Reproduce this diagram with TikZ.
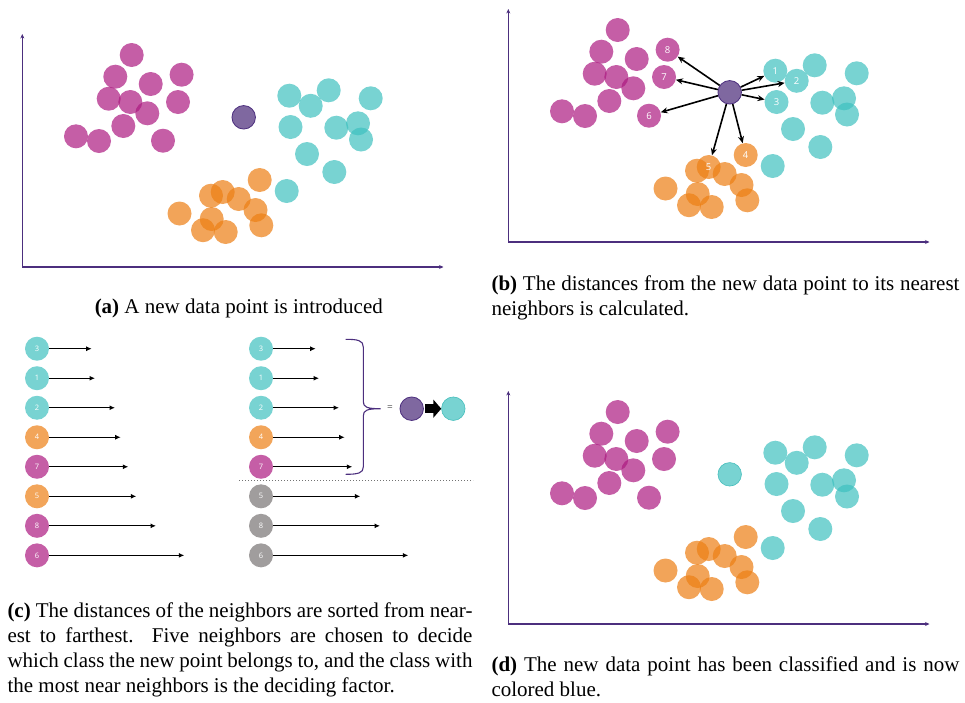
\documentclass[tikz,border=0pt]{standalone}
\usepackage{fontspec}
\setmainfont{Liberation Serif}
\newfontfamily\lblfont{Open Sans}
\usetikzlibrary{arrows.meta}
\definecolor{magc}{RGB}{172,25,128}
\definecolor{cyac}{RGB}{62,192,191}
\definecolor{orac}{RGB}{236,126,19}
\definecolor{newfill}{RGB}{127,104,160}
\definecolor{newdraw}{RGB}{76,47,126}
\definecolor{grayc}{RGB}{160,157,157}
\definecolor{cyasolid}{RGB}{120,211,210}
\definecolor{magsolid}{RGB}{197,94,166}
\definecolor{orasolid}{RGB}{242,165,90}
\definecolor{cyaedge}{RGB}{70,190,188}
\newcommand\ptlab[1]{}
\newcommand\capfont{\fontsize{21}{25.3}\selectfont}
\tikzset{
  ptbase/.style={circle, inner sep=0pt, minimum size=24pt, fill opacity=0.7, text opacity=1,
    text=white, font=\lblfont\fontsize{9.5}{9.5}\selectfont},
  magpt/.style={ptbase, fill=magc},
  cyapt/.style={ptbase, fill=cyac},
  orapt/.style={ptbase, fill=orac},
  newpt/.style={circle, inner sep=0pt, minimum size=23.5pt, fill=newfill, draw=newdraw, line width=0.8pt},
  classpt/.style={circle, inner sep=0pt, minimum size=23.5pt, fill=cyasolid, draw=cyaedge, line width=0.6pt},
  listpt/.style={circle, inner sep=0pt, minimum size=24pt, text=white, font=\lblfont\fontsize{7.5}{7.5}\selectfont},
  axisline/.style={draw=newdraw, line width=1.2pt, -{Stealth[length=4.5pt,width=4pt]}},
  nbarrow/.style={draw=black, line width=1.6pt, -{Stealth[length=7pt,width=6pt]}},
  distarrow/.style={draw=black, line width=1.1pt, -{Latex[length=5.5pt,width=5pt]}},
  captext/.style={font=\capfont, inner sep=0pt},
}
\newcommand\scatterpts{%
  % magenta
  \foreach \px/\py [count=\k] in {131.7/55, 115.3/76.7, 150.7/84, 108.7/98.7, 130.3/102, 147.3/113.3, 123.3/126, 76/136.3, 99/141}
    {\node[magpt] (m\k) at (\px,\py) {};}
  % cyan
  \foreach \px/\py [count=\k] in {328.7/90.3, 370.7/98.3, 336.3/127.7, 358/123.3, 361/139.5, 307/154, 334.3/172, 286.7/191}
    {\node[cyapt] (c\k) at (\px,\py) {};}
  % orange
  \foreach \px/\py [count=\k] in {211/195.7, 238.7/199, 255.5/210, 179.5/213.5, 211.7/219, 203/230.2, 225.7/232, 261.3/225.3}
    {\node[orapt] (o\k) at (\px,\py) {};}
  % points that carry labels in (b)
  \node[magpt] (n8) at (181.6,74.7) {\ptlab{8}};
  \node[magpt] (n7) at (178,102) {\ptlab{7}};
  \node[magpt] (n6) at (163,140.7) {\ptlab{6}};
  \node[cyapt] (n1) at (289.3,95.7) {\ptlab{1}};
  \node[cyapt] (n2) at (310.7,105.8) {\ptlab{2}};
  \node[cyapt] (n3) at (290.5,127) {\ptlab{3}};
  \node[orapt] (n4) at (259.7,180) {\ptlab{4}};
  \node[orapt] (n5) at (222.7,192) {\ptlab{5}};
}
\newcommand\plotaxes{%
  \coordinate (org) at (22.3,267);
  \coordinate (ytop) at (22.3,34);
  \coordinate (xend) at (443.5,267);
  \draw[axisline] (org) -- (ytop);
  \draw[axisline] (org) -- (xend);
}
\begin{document}
\begin{tikzpicture}[x=1pt, y=-1pt]
\useasboundingbox (0,0) rectangle (965,702);

% ---------- (a)
\begin{scope}[name prefix=a-]
  \plotaxes
  \scatterpts
  \node[newpt] (new) at (243.7,117.3) {};
\end{scope}
\node[captext, anchor=base] (capa) at (238.8,313) {\textbf{(a)} A new data point is introduced};

% ---------- (b)
\begin{scope}[shift={(486,-25)}, name prefix=b-]
  \renewcommand\ptlab[1]{#1}
  \plotaxes
  \scatterpts
  \node[newpt] (new) at (243.7,117.3) {};
  \foreach \t in {n8,n7,n6,n1,n2,n3,n4,n5}
    {\draw[nbarrow] (new) -- (\t);}
\end{scope}
\node[captext, anchor=base west, text width=468pt, align=justify] (capb) at (491.3,290.5)
  {\textbf{(b)} The distances from the new data point to its nearest\linebreak neighbors is calculated.};

% ---------- (c)
\foreach \i/\t/\s/\l in {1/3/cyasolid/42.7, 2/1/cyasolid/46, 3/2/cyasolid/66, 4/4/orasolid/71.7,
    5/7/magsolid/79.3, 6/5/orasolid/87.3, 7/8/magsolid/107, 8/6/magsolid/135.3}
{
  \pgfmathsetmacro\yy{348.7+(\i-1)*29.52}
  \node[listpt, fill=\s] (L\i) at (37,\yy) {\t};
  \coordinate (Le\i) at (49+\l,\yy);
  \draw[distarrow] (L\i) -- (Le\i);
}
\foreach \i/\t/\s/\l in {1/3/cyasolid/42.7, 2/1/cyasolid/46, 3/2/cyasolid/66, 4/4/orasolid/71.7,
    5/7/magsolid/79.3, 6/5/grayc/87.3, 7/8/grayc/107, 8/6/grayc/135.3}
{
  \pgfmathsetmacro\yy{348.7+(\i-1)*29.52}
  \node[listpt, fill=\s] (R\i) at (261,\yy) {\t};
  \coordinate (Re\i) at (273+\l,\yy);
  \draw[distarrow] (R\i) -- (Re\i);
}
% brace
\draw[newdraw, line width=1.1pt]
  (345.7,339.3) .. controls (358,339.3) and (363.3,340.5) .. (363.3,347)
  -- (363.3,401.5) .. controls (363.3,407.2) and (367,408.7) .. (380.7,408.7)
  .. controls (367,408.7) and (363.3,410.2) .. (363.3,416)
  -- (363.3,467) .. controls (363.3,473) and (358,474.3) .. (345.7,474.3);
\node[font=\lblfont\fontsize{10}{10}\selectfont, text=black!65, inner sep=0pt] (eq) at (390,408.2) {=};
\node[newpt] (pc) at (411.7,408.7) {};
\node[classpt] (cc) at (453.3,408.7) {};
\draw[line width=9pt, -{Triangle[length=8pt,width=18pt]}, shorten <=1.5pt] (pc) -- (cc);
% separator
\draw[black!55, line width=1pt, dotted] (239,480.7) -- (473,480.7);
\node[captext, anchor=base west, text width=465pt, align=justify] (capc) at (7.3,617)
  {\textbf{(c)} The distances of the neighbors are sorted from near-\linebreak est to farthest.  Five neighbors are chosen to decide\linebreak which class the new point belongs to, and the class with\linebreak the most near neighbors is the deciding factor.};

% ---------- (d)
\begin{scope}[shift={(486,357)}, name prefix=d-]
  \plotaxes
  \scatterpts
  \node[classpt] (new) at (243.7,117.3) {};
\end{scope}
\node[captext, anchor=base west, text width=468pt, align=justify] (capd) at (491.3,671.5)
  {\textbf{(d)} The new data point has been classified and is now\linebreak colored blue.};
\end{tikzpicture}
\end{document}
